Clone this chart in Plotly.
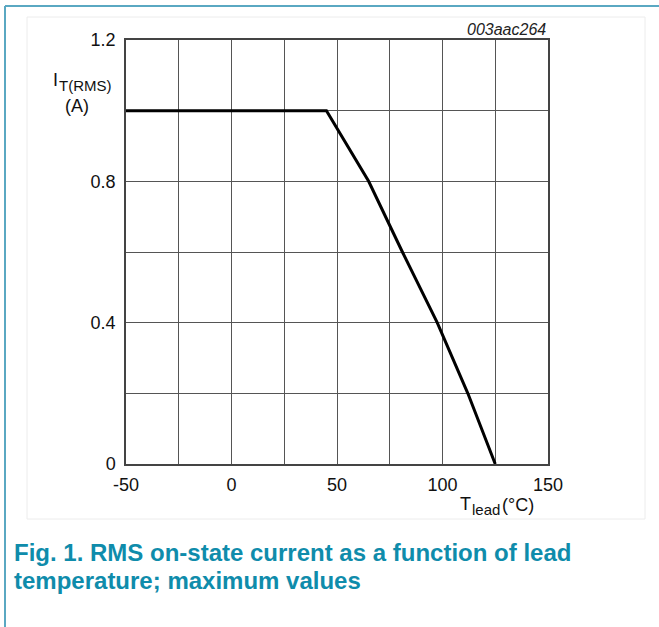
import plotly.graph_objects as go

# data
temp_c = [-50, 45, 65, 81, 97.5, 112, 125]
current_a = [1.0, 1.0, 0.8, 0.6, 0.4, 0.2, 0.0]

x_tickvals = [-50, -25, 0, 25, 50, 75, 100, 125, 150]
x_ticktext = ["-50", "", "0", "", "50", "", "100", "", "150"]
y_tickvals = [0, 0.2, 0.4, 0.6, 0.8, 1.0, 1.2]
y_ticktext = ["0", "", "0.4", "", "0.8", "", "1.2"]

W, H = 659, 627
L, R, T, B = 126, 548, 40, 464


def px(x):
    return (x - L) / (R - L)


def py(y):
    return (B - y) / (B - T)


FONT = "Liberation Sans, Arial, sans-serif"
TEAL = "#0f8cab"

fig = go.Figure()
fig.add_trace(go.Scatter(x=temp_c, y=current_a, mode="lines",
                         line=dict(color="black", width=3), showlegend=False,
                         hoverinfo="skip"))

axis_common = dict(showgrid=True, gridcolor="#555555", gridwidth=1,
                   showline=True, linecolor="#444444", linewidth=1.5, mirror=True,
                   zeroline=False, ticks="", tickfont=dict(family=FONT, size=18, color="#111"))

fig.update_xaxes(range=[-50, 150], tickmode="array", tickvals=x_tickvals,
                 ticktext=x_ticktext, ticklabelstandoff=4, **axis_common)
fig.update_yaxes(range=[0, 1.2], tickmode="array", tickvals=y_tickvals,
                 ticktext=y_ticktext, ticklabelstandoff=5, **axis_common)

shapes = [
    dict(type="line", xref="paper", yref="paper", x0=px(5), x1=px(W), y0=py(6), y1=py(6),
         line=dict(color="#5aa8c2", width=2)),
    dict(type="line", xref="paper", yref="paper", x0=px(5), x1=px(5), y0=py(6), y1=py(H),
         line=dict(color="#5aa8c2", width=2)),
    dict(type="rect", xref="paper", yref="paper", x0=px(27), x1=px(645), y0=py(17), y1=py(519),
         line=dict(color="#ececec", width=1)),
]


def ann(text, x, y, xanchor, yanchor, size, color="#111", **kw):
    return dict(text=text, x=px(x), y=py(y), xref="paper", yref="paper",
                xanchor=xanchor, yanchor=yanchor, showarrow=False,
                font=dict(family=FONT, size=size, color=color), **kw)


annotations = [
    ann("<i>003aac264</i>", 548, 29, "right", "middle", 16, "#222"),
    ann("I", 51, 80, "left", "middle", 18),
    ann("T(RMS)", 57, 85, "left", "middle", 15),
    ann("(A)", 77, 106, "center", "middle", 18),
    ann("T", 458, 504, "left", "middle", 18),
    ann("lead", 470, 509, "left", "middle", 15),
    ann("(°C)", 500, 505, "left", "middle", 18),
    ann("<b>Fig. 1. RMS on-state current as a function of lead</b>",
        12, 552, "left", "middle", 24, TEAL),
    ann("<b>temperature; maximum values</b>",
        12, 580, "left", "middle", 24, TEAL),
]

fig.update_layout(width=W, height=H, margin=dict(l=L, r=W - R, t=T, b=H - B),
                  plot_bgcolor="white", paper_bgcolor="white",
                  shapes=shapes, annotations=annotations)

fig.write_html("out.html", config={"displayModeBar": False},
               post_script="document.body.style.margin='0';")
